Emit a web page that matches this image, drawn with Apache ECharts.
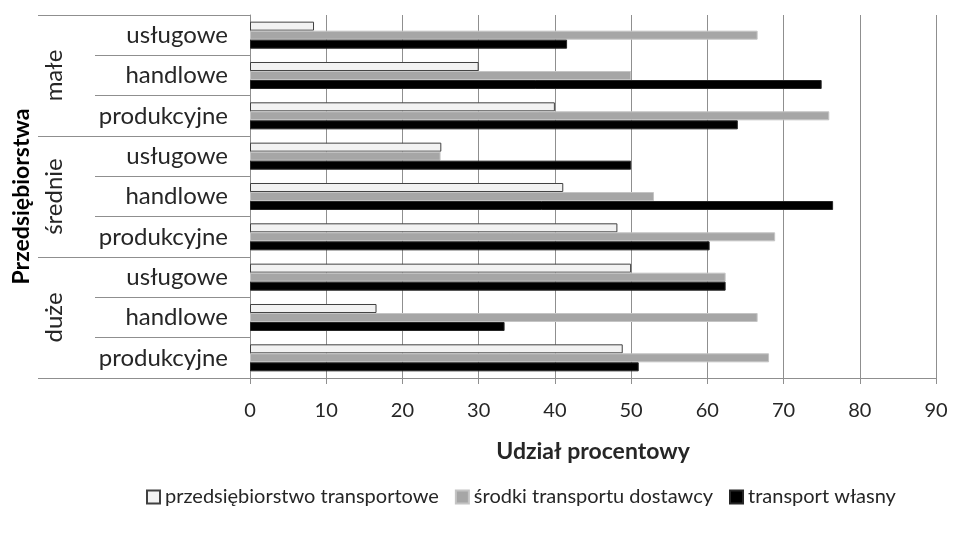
<!DOCTYPE html>
<html>
<head>
<meta charset="utf-8">
<script src="https://cdn.jsdelivr.net/npm/echarts@6/dist/echarts.min.js"></script>
<style>
  html, body { margin: 0; padding: 0; background: #ffffff; }
  #chart { width: 953px; height: 540px; }
</style>
</head>
<body>
<div id="chart"></div>
<script>
// Enterprise size groups and business types (top to bottom)
const groups = ['małe', 'średnie', 'duże'];
const types = ['usługowe', 'handlowe', 'produkcyjne'];

// Share of each transport mode, %, in row order:
// małe (usł, hand, prod), średnie (usł, hand, prod), duże (usł, hand, prod)
const przedsiebiorstwoTransportowe = [8.4, 30, 40, 25.1, 41.1, 48.2, 50, 16.6, 48.9];
const srodkiTransportuDostawcy     = [66.6, 50, 76, 25, 53, 68.9, 62.4, 66.6, 68.1];
const transportWlasny              = [41.6, 75, 64, 50, 76.5, 60.3, 62.4, 33.4, 51];

const seriesNames = ['przedsiębiorstwo transportowe', 'środki transportu dostawcy', 'transport własny'];
const xTicks = { min: 0, max: 90, step: 10 };

// Unique keys per row, label shows only the business type
const rowKeys = [];
groups.forEach(g => types.forEach(t => rowKeys.push(g + '|' + t)));

const FONT = 'Lato';
const gridColor = '#8f8f8f';
const textColor = '#262626';

const chart = echarts.init(document.getElementById('chart'), null, { renderer: 'canvas' });

chart.setOption({
  animation: false,
  backgroundColor: '#ffffff',
  textStyle: { fontFamily: FONT },
  grid: { left: 250, right: 17, top: 15, bottom: 162, containLabel: false },
  legend: {
    bottom: 28,
    left: 141,
    icon: 'rect',
    itemWidth: 13,
    itemHeight: 13,
    itemGap: 16,
    textStyle: { fontFamily: FONT, fontSize: 20, color: textColor },
    data: seriesNames
  },
  xAxis: {
    type: 'value',
    min: xTicks.min,
    max: xTicks.max,
    interval: xTicks.step,
    name: 'Udział procentowy',
    nameLocation: 'middle',
    nameGap: 62,
    nameTextStyle: { fontFamily: FONT, fontSize: 23, fontWeight: 'bold', color: textColor },
    axisLine: { show: true, lineStyle: { color: gridColor, width: 1 } },
    axisTick: { show: true, length: 6, lineStyle: { color: gridColor } },
    axisLabel: { margin: 23, fontFamily: FONT, fontSize: 20, color: textColor },
    splitLine: { show: true, lineStyle: { color: gridColor, width: 1 } }
  },
  yAxis: [
    {
      // business type labels with row separators
      type: 'category',
      inverse: true,
      data: rowKeys,
      axisLine: { show: true, lineStyle: { color: gridColor } },
      axisTick: { show: true, length: 155, lineStyle: { color: gridColor } },
      axisLabel: {
        margin: 22,
        fontFamily: FONT,
        fontSize: 24,
        color: textColor,
        formatter: v => v.split('|')[1]
      },
      splitLine: { show: false }
    },
    {
      // group separators reaching to the far left, plus the axis title
      type: 'category',
      inverse: true,
      data: groups,
      position: 'left',
      offset: 212,
      name: 'Przedsiębiorstwa',
      nameLocation: 'middle',
      nameGap: 5,
      nameRotate: 90,
      nameTextStyle: { fontFamily: FONT, fontSize: 23, fontWeight: 'bold', color: '#000000', verticalAlign: 'bottom' },
      axisLine: { show: false },
      axisTick: { show: true, inside: true, length: 212, lineStyle: { color: gridColor } },
      axisLabel: { show: false },
      splitLine: { show: false }
    },
    {
      // rotated group names
      type: 'category',
      inverse: true,
      data: groups,
      position: 'left',
      offset: 176,
      axisLine: { show: false },
      axisTick: { show: false },
      axisLabel: { margin: 8, rotate: 90, fontFamily: FONT, fontSize: 24, color: textColor },
      splitLine: { show: false }
    }
  ],
  series: [
    {
      name: seriesNames[0],
      type: 'bar',
      yAxisIndex: 0,
      data: przedsiebiorstwoTransportowe,
      barGap: '0%',
      barCategoryGap: '33%',
      itemStyle: { color: '#f2f2f2', borderColor: '#404040', borderWidth: 1 }
    },
    {
      name: seriesNames[1],
      type: 'bar',
      yAxisIndex: 0,
      data: srodkiTransportuDostawcy,
      barGap: '0%',
      barCategoryGap: '33%',
      itemStyle: { color: '#a6a6a6', borderColor: '#c4c4c4', borderWidth: 1 }
    },
    {
      name: seriesNames[2],
      type: 'bar',
      yAxisIndex: 0,
      data: transportWlasny,
      barGap: '0%',
      barCategoryGap: '33%',
      itemStyle: { color: '#000000', borderColor: '#262626', borderWidth: 1 }
    }
  ]
});
</script>
</body>
</html>
